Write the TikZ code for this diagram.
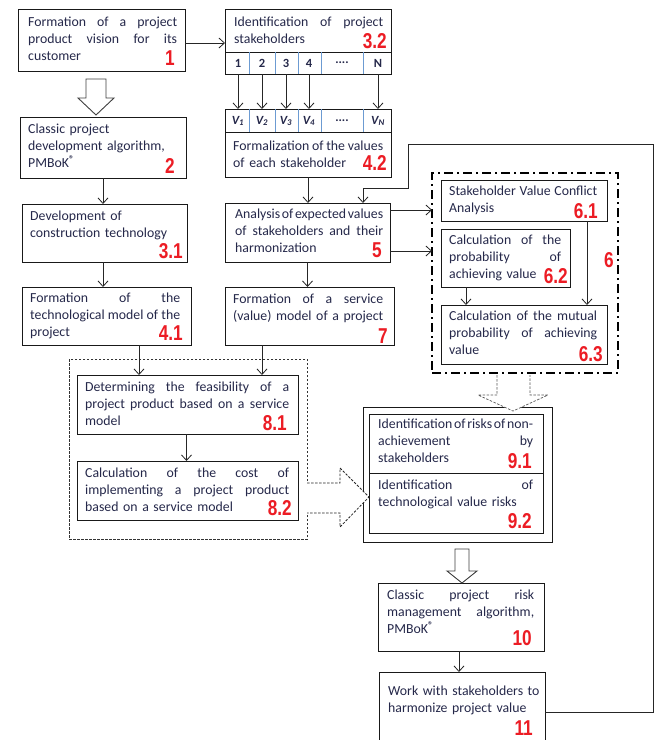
\documentclass[tikz,border=0pt]{standalone}
\usepackage{fontspec}
\setmainfont{Carlito}
\newfontfamily\numf[FakeStretch=0.8]{Liberation Sans}
\usetikzlibrary{arrows.meta,calc}
\definecolor{txt}{HTML}{25284A}
\definecolor{nred}{HTML}{EC1C24}
\definecolor{cellc}{HTML}{6C9BD2}
\newlength\jw
\newcommand\J[1]{\leavevmode\hbox to \jw{\spaceskip=\fontdimen2\font plus 1fill minus \fontdimen2\font\relax #1}}
\newcommand\N[1]{\leavevmode\hbox{#1}}
\begin{document}
\begin{tikzpicture}[x=1pt,y=-1pt,
 box/.style={draw=black!90, line width=0.9pt, anchor=north west, inner sep=0pt, outer sep=0pt},
 txtn/.style={anchor=base west, inner sep=0pt, text width=#1, align=left, font=\fontsize{13.8}{17.2}\selectfont, text=txt, execute at begin node={\setlength\jw{#1}}},
 num/.style={anchor=base east, inner sep=0pt, font=\numf\bfseries\fontsize{21.5}{22}\selectfont, text=nred},
 arr/.style={draw=black!85, line width=0.8pt, -{Straight Barb[length=5.5pt,width=10pt]}},
 cell/.style={inner sep=0pt, font=\bfseries\fontsize{12.5}{14}\selectfont, text=txt},
 hollow/.style={draw=black!75, line width=0.9pt, fill=white},
 dhollow/.style={draw=black!65, line width=0.7pt, dash pattern=on 2.5pt off 1.5pt, fill=white}
]
\clip (0,0) rectangle (654,740);
\fill[white] (0,0) rectangle (654,740);

% ---- boxes
\node[box, minimum width=167pt, minimum height=62pt] (b1) at (18,9) {};
\node[box, minimum width=166pt, minimum height=65pt] (b32) at (225,9) {};
\node[box, minimum width=166pt, minimum height=68pt] (b42) at (225,109) {};
\node[box, minimum width=166pt, minimum height=61pt] (b2) at (20,117) {};
\node[box, minimum width=165pt, minimum height=58pt] (b31) at (22,204) {};
\node[box, minimum width=165pt, minimum height=59pt] (b5) at (225,203) {};
\node[box, minimum width=169pt, minimum height=58pt] (b41) at (22,287) {};
\node[box, minimum width=169pt, minimum height=58pt] (b7) at (225,287) {};
\node[box, draw=black, line width=2pt, dash pattern=on 9pt off 4pt on 2pt off 4pt, minimum width=186pt, minimum height=200pt] (b6) at (432,173) {};
\node[box, minimum width=166pt, minimum height=41pt] (b61) at (441,180) {};
\node[box, minimum width=129pt, minimum height=58pt] (b62) at (441,229) {};
\node[box, minimum width=166pt, minimum height=59pt] (b63) at (441,305) {};
\node[box, draw=black!80, line width=0.7pt, dash pattern=on 2.5pt off 1.5pt, minimum width=238pt, minimum height=180pt] (b8) at (69,359) {};
\node[box, minimum width=221pt, minimum height=59pt] (b81) at (77,375) {};
\node[box, minimum width=221pt, minimum height=59pt] (b82) at (77,461) {};
\node[box, minimum width=189pt, minimum height=135pt] (b9) at (363,407) {};
\node[box, minimum width=174pt, minimum height=59pt] (b91) at (369,414) {};
\node[box, minimum width=174pt, minimum height=60pt] (b92) at (369,473) {};
\node[box, minimum width=166pt, minimum height=68pt] (b10) at (378,583) {};
\node[box, minimum width=166pt, minimum height=80pt] (b11) at (379,672) {};

% ---- cell rows
\draw[line width=0.9pt, black!90] (b32.west |- 0,52) -- (b32.east |- 0,52);
\draw[line width=0.9pt, black!90] (b42.west |- 0,132) -- (b42.east |- 0,132);
\foreach \x in {249,275,298,321,363}{
  \draw[cellc, line width=0.8pt] (\x,52) -- (\x,74);
  \draw[cellc, line width=0.8pt] (\x,109) -- (\x,132);
}
\node[cell] (c1) at (238,63) {1};
\node[cell] (c2) at (262,63) {2};
\node[cell] (c3) at (286,63) {3};
\node[cell] (c4) at (309,63) {4};
\node[cell] (c5) at (342,63) {....};
\node[cell] (c6) at (378,63) {N};
\node[cell] (v1) at (238,121) {\itshape V\textsubscript{1}};
\node[cell] (v2) at (262,121) {\itshape V\textsubscript{2}};
\node[cell] (v3) at (286,121) {\itshape V\textsubscript{3}};
\node[cell] (v4) at (309,121) {\itshape V\textsubscript{4}};
\node[cell] (v5) at (342,121) {....};
\node[cell] (v6) at (378,121) {\itshape V\textsubscript{N}};

% ---- texts
\node[txtn=149pt] (t1) at (28,26) {\J{Formation of a project}\\\J{product vision for its}\\\N{customer}};
\node[txtn=149pt] (t32) at (234,26) {\J{Identification of project}\\\N{stakeholders}};
\node[txtn=150pt] (t42) at (233,150) {\J{Formalization of the values}\\\N{of each stakeholder}};
\node[txtn=150pt] (t2) at (28,133) {\N{Classic project}\\\N{development algorithm,}\\\N{PMBoK\textsuperscript{\bfseries ®}}};
\node[txtn=150pt] (t31) at (30,220) {\N{Development of}\\\N{construction technology}};
\node[txtn=150pt] (t41) at (30,302) {\J{Formation of the}\\\J{technological model of the}\\\N{project}};
\node[txtn=148pt] (t5) at (235,218) {\J{Analysis of expected values}\\\J{of stakeholders and their}\\\N{harmonization}};
\node[txtn=150pt] (t7) at (233,303) {\J{Formation of a service}\\\N{(value) model of a project}};
\node[txtn=148pt] (t61) at (449,195) {\J{Stakeholder Value Conflict}\\\N{Analysis}};
\node[txtn=112pt] (t62) at (449,244) {\J{Calculation of the}\\\J{probability of}\\\N{achieving value}};
\node[txtn=148pt] (t63) at (449,320) {\J{Calculation of the mutual}\\\J{probability of achieving}\\\N{value}};
\node[txtn=204pt] (t81) at (85,391) {\J{Determining the feasibility of a}\\\J{project product based on a service}\\\N{model}};
\node[txtn=204pt] (t82) at (85,477) {\J{Calculation of the cost of}\\\J{implementing a project product}\\\N{based on a service model}};
\node[txtn=155pt] (t91) at (378,428) {\J{Identification of risks of non-}\\\J{achievement by}\\\N{stakeholders}};
\node[txtn=155pt] (t92) at (378,489) {\J{Identification of}\\\N{technological value risks}};
\node[txtn=147pt] (t10) at (387,599) {\J{Classic project risk}\\\J{management algorithm,}\\\N{PMBoK\textsuperscript{\bfseries ®}}};
\node[txtn=150pt] (t11) at (388,695) {\N{Work with stakeholders to}\\\N{harmonize project value}};

% ---- numbers
\node[num] (n1) at (175,65) {1};
\node[num] (n2) at (175,173) {2};
\node[num] (n32) at (387,48) {3.2};
\node[num] (n42) at (387,170) {4.2};
\node[num] (n31) at (183,258) {3.1};
\node[num] (n41) at (183,340) {4.1};
\node[num] (n5) at (382,257) {5};
\node[num] (n7) at (388,343) {7};
\node[num] (n6) at (614,267) {6};
\node[num] (n61) at (598,218) {6.1};
\node[num] (n62) at (568,283) {6.2};
\node[num] (n63) at (603,361) {6.3};
\node[num] (n81) at (287,430) {8.1};
\node[num] (n82) at (292,515) {8.2};
\node[num] (n91) at (532,468) {9.1};
\node[num] (n92) at (532,528) {9.2};
\node[num] (n10) at (532,645) {10};
\node[num] (n11) at (533,735) {11};

% ---- connectors
\draw[arr] ($(b1.east)+(0,3)$) -- ($(b1.east -| b32.west)+(0,3)$);
\foreach \c/\v in {c1/v1,c2/v2,c3/v3,c4/v4,c6/v6}
  \draw[arr] (\c |- b32.south) -- (\c |- b42.north);
\draw[arr] (b2.south) -- (b2.south |- b31.north);
\draw[arr] (b2.south |- b31.south) -- (b2.south |- b41.north);
\draw[arr] (b42.south) -- (b42.south |- b5.north);
\draw[arr] (b5.south) -- (b5.south |- b7.north);
\draw[arr] ($(b5.north east)+(0,7)$) -- ($(b5.north east -| b6.west)+(0,7)$);
\draw[arr] ($(b5.north east)+(0,48)$) -- ($(b5.north east -| b6.west)+(0,48)$);
\draw[arr] ($(b62.south west)+(25,0)$) -- ($(b62.south west |- b63.north)+(25,0)$);
\draw[arr] ($(b61.south east)+(-20,0)$) -- ($(b61.south east |- b63.north)+(-20,0)$);
\draw[arr] ($(b41.south west)+(117,0)$) -- ($(b41.south west |- b81.north)+(117,0)$);
\draw[arr] ($(b7.south west)+(37,0)$) -- ($(b7.south west |- b81.north)+(37,0)$);
\draw[arr] ($(b81.south)+(-1,0)$) -- ($(b81.south |- b82.north)+(-1,0)$);
\draw[arr] ($(b10.south)+(-2,0)$) -- ($(b10.south |- b11.north)+(-2,0)$);
\coordinate (fb1) at (653,144);
\coordinate (fb2) at (408,188);
\coordinate (fb3) at (363,188);
\draw[arr] (b11.east) -| (fb1) -- (fb1 -| fb2) -- (fb2) -- (fb3) -- (fb3 |- b5.north);

% ---- hollow arrows
\draw[hollow] (86,79) -- (106,79) -- (106,98) -- (114,98) -- (96,115) -- (78,98) -- (86,98) -- cycle;
\draw[hollow] (455,549) -- (469,549) -- (469,571) -- (477,571) -- (462,583) -- (447,571) -- (455,571) -- cycle;
\draw[dhollow] (497,375) -- (497,395) -- (478,395) -- (513,411) -- (548,395) -- (530,395) -- (530,375);
\draw[dhollow, draw=black!85, line width=0.8pt] (307,483) -- (340,483) -- (340,468) -- (369,497) -- (340,527) -- (340,513) -- (307,513);
\end{tikzpicture}
\end{document}
